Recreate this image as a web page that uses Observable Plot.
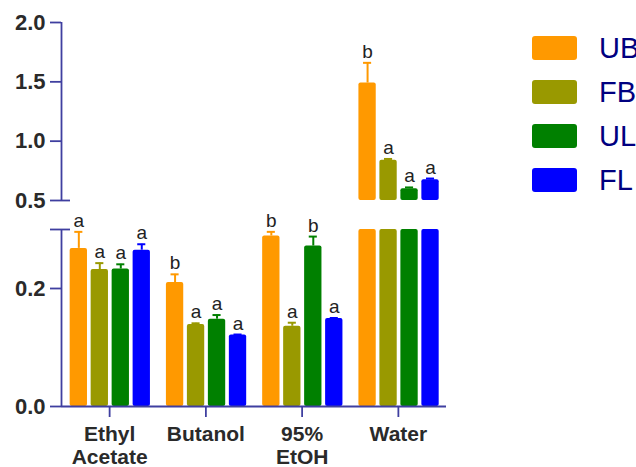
<!DOCTYPE html>
<html>
<head>
<meta charset="utf-8">
<script src="https://cdn.jsdelivr.net/npm/d3@7"></script>
<script src="https://cdn.jsdelivr.net/npm/@observablehq/plot@0.6"></script>
<style>
  html, body { margin: 0; padding: 0; background: #fff; }
  #wrap { position: relative; width: 636px; height: 467px; overflow: hidden; font-family: "Liberation Sans", Arial, sans-serif; }
  #chart { position: absolute; left: 0; top: 0; }
  .item { position: absolute; left: 532px; height: 24px; display: flex; align-items: center; }
  .sw { width: 45px; height: 24px; border-radius: 3px; }
  .lab { position: absolute; left: 67px; font-size: 29px; line-height: 1; color: #000080; white-space: nowrap; }
</style>
</head>
<body>
<div id="wrap"><div id="chart"></div><div id="legend"></div></div>
<script>
// ---- data ----
const categories = ["Ethyl\nAcetate", "Butanol", "95%\nEtOH", "Water"];
const series = ["UB", "FB", "UL", "FL"];
const UB = [0.268, 0.210, 0.289, 1.49];
const UB_err = [0.028, 0.014, 0.007, 0.17];
const UB_sig = ["a", "b", "b", "b"];
const FB = [0.232, 0.139, 0.136, 0.84];
const FB_err = [0.011, 0.002, 0.006, 0.01];
const FB_sig = ["a", "a", "a", "a"];
const UL = [0.233, 0.148, 0.272, 0.60];
const UL_err = [0.008, 0.007, 0.016, 0.01];
const UL_sig = ["a", "a", "b", "a"];
const FL = [0.265, 0.121, 0.149, 0.675];
const FL_err = [0.010, 0.001, 0.001, 0.01];
const FL_sig = ["a", "a", "a", "a"];
const yTicks = [0, 0.2, 0.3, 0.5, 1.0, 1.5, 2.0];
const lowerTop = 0.3, upperBottom = 0.5;

// ---- style ----
const colors = ["#FF9900", "#999900", "#008000", "#0000FF"];
const axisColor = "#3F3FA0";
const textColor = "#2a2a2a";

const vals = {UB, FB, UL, FL};
const errs = {UB: UB_err, FB: FB_err, UL: UL_err, FL: FL_err};
const sigs = {UB: UB_sig, FB: FB_sig, UL: UL_sig, FL: FL_sig};
const rows = [];
categories.forEach((c, ci) => series.forEach((s, si) => {
  rows.push({ci, si, s, v: vals[s][ci], err: errs[s][ci], letter: sigs[s][ci]});
}));

// layout (x in category units)
const groupStart = -0.41, barStep = 0.218, barW = 0.18, capHalf = 0.042, pxUnit = 96.25;
const bx1 = d => d.ci + groupStart + d.si * barStep;
const bx2 = d => bx1(d) + barW;
const bc = d => bx1(d) + barW / 2;

const chart = Plot.plot({
  width: 636,
  height: 467,
  marginLeft: 61,
  marginRight: 190,
  marginTop: 22,
  marginBottom: 61,
  style: {fontFamily: "'Liberation Sans', Arial, sans-serif", background: "transparent"},
  x: {type: "linear", domain: [-0.5, 3.5], range: [61, 446], label: null},
  y: {type: "linear", domain: [0, lowerTop, upperBottom, 2.0], range: [406, 229, 200, 22], label: null},
  color: {domain: series, range: colors},
  marks: [
    // bars, lower segment
    Plot.rectY(rows, {x1: bx1, x2: bx2, y1: 0, y2: d => Math.min(d.v, lowerTop), fill: "s", rx: 2}),
    // bars, upper segment
    Plot.rectY(rows.filter(d => d.v > upperBottom), {x1: bx1, x2: bx2, y1: upperBottom, y2: "v", fill: "s", rx: 2}),
    // error bars
    Plot.ruleX(rows, {x: bc, y1: "v", y2: d => d.v + d.err, stroke: "s", strokeWidth: 2}),
    Plot.ruleY(rows, {y: d => d.v + d.err, x1: d => bc(d) - capHalf, x2: d => bc(d) + capHalf, stroke: "s", strokeWidth: 2}),
    // significance letters
    Plot.text(rows, {x: bc, y: d => d.v + d.err, text: "letter", lineAnchor: "bottom", dy: -5, fontSize: 19, fill: "#222"}),
    // axis lines (broken)
    Plot.ruleX([[0, lowerTop], [upperBottom, 2.0]], {x: -0.5, y1: d => d[0], y2: d => d[1], stroke: axisColor, strokeWidth: 1.8}),
    Plot.ruleY([upperBottom, lowerTop], {x1: -0.5, x2: -0.5 + 9 / pxUnit, stroke: axisColor, strokeWidth: 1.8}),
    Plot.ruleY([0], {x1: -0.5, x2: 3.5, stroke: axisColor, strokeWidth: 1.8}),
    Plot.axisY(yTicks, {
      anchor: "left", tickSize: 11, tickPadding: 5, label: null,
      tickFormat: d => d === lowerTop ? "" : d.toFixed(1),
      fontSize: 22, fontWeight: "bold", fill: textColor, stroke: axisColor, strokeWidth: 1.8
    }),
    Plot.axisX([0, 1, 2, 3], {
      anchor: "bottom", tickSize: 11, tickPadding: 8, label: null,
      tickFormat: i => categories[i], lineHeight: 1.06,
      fontSize: 21, fontWeight: "bold", fill: textColor, stroke: axisColor, strokeWidth: 1.8
    })
  ]
});
document.getElementById("chart").appendChild(chart);

// legend
const legend = document.getElementById("legend");
series.forEach((s, i) => {
  const item = document.createElement("div");
  item.className = "item";
  item.style.top = (36 + 44 * i) + "px";
  const sw = document.createElement("div");
  sw.className = "sw";
  sw.style.background = colors[i];
  const lab = document.createElement("span");
  lab.className = "lab";
  lab.textContent = s;
  item.appendChild(sw);
  item.appendChild(lab);
  legend.appendChild(item);
});
</script>
</body>
</html>
